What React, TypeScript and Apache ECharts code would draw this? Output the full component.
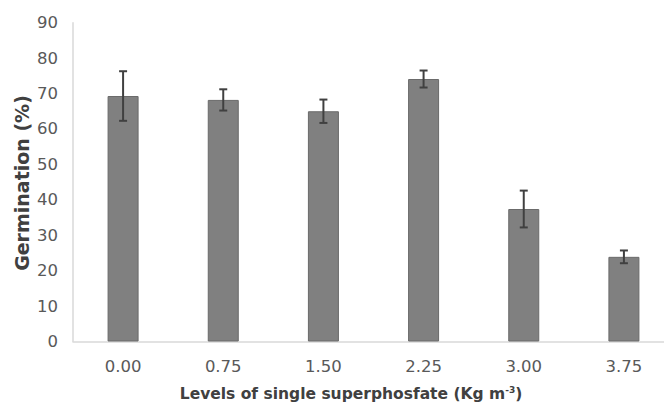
import React, { useEffect, useRef } from "react";
import * as echarts from "echarts";

const categories = ["0.00", "0.75", "1.50", "2.25", "3.00", "3.75"];
const germination = [69.3, 68.2, 65.0, 74.1, 37.4, 23.9];
const errors = [7.0, 3.0, 3.3, 2.4, 5.2, 1.8];
const yTicksMax = 90;
const yTickStep = 10;

const FONT = "'DejaVu Sans', sans-serif";

export default function App() {
  const ref = useRef<HTMLDivElement>(null);
  useEffect(() => {
    if (!ref.current) return;
    const chart = echarts.init(ref.current, null, { renderer: "svg" });
    const errData = categories.map((c, i) => [i, germination[i] - errors[i], germination[i] + errors[i]]);
    chart.setOption({
      animation: false,
      backgroundColor: "#ffffff",
      grid: { left: 73, top: 22.7, height: 318.8, width: 601, containLabel: false },
      xAxis: {
        type: "category",
        data: categories,
        axisLine: { show: true, lineStyle: { color: "#d9d9d9", width: 1.5 } },
        axisTick: { show: false },
        axisLabel: { color: "#595959", fontSize: 16.5, fontFamily: FONT, margin: 16 },
      },
      yAxis: {
        type: "value",
        min: 0,
        max: yTicksMax,
        interval: yTickStep,
        axisLine: { show: true, lineStyle: { color: "#d9d9d9", width: 1.5 } },
        axisTick: { show: false },
        splitLine: { show: false },
        axisLabel: { color: "#595959", fontSize: 16.5, fontFamily: FONT, margin: 15 },
      },
      series: [
        {
          type: "bar",
          data: germination,
          barWidth: 31,
          itemStyle: { color: "#808080", borderColor: "#6a6a6a", borderWidth: 1 },
        },
        {
          type: "custom",
          data: errData,
          z: 10,
          renderItem: (params: any, api: any) => {
            const x = api.value(0);
            const lo = api.coord([x, api.value(1)]);
            const hi = api.coord([x, api.value(2)]);
            const half = 4;
            const style = { stroke: "#404040", lineWidth: 2 };
            return {
              type: "group",
              children: [
                { type: "line", shape: { x1: lo[0], y1: lo[1], x2: hi[0], y2: hi[1] }, style },
                { type: "line", shape: { x1: hi[0] - half, y1: hi[1], x2: hi[0] + half, y2: hi[1] }, style },
                { type: "line", shape: { x1: lo[0] - half, y1: lo[1], x2: lo[0] + half, y2: lo[1] }, style },
              ],
            };
          },
        },
      ],
      graphic: [
        {
          type: "text",
          x: 351,
          y: 394,
          style: {
            text: "Levels of single superphosfate (Kg m{sup|-3})",
            fontSize: 15.5,
            fontWeight: "bold",
            fontFamily: FONT,
            fill: "#404040",
            align: "center",
            verticalAlign: "middle",
            rich: {
              sup: { fontSize: 9, fontWeight: "bold", fontFamily: FONT, fill: "#404040", verticalAlign: "top", padding: [0, 0, 8, 0] },
            },
          },
        },
        {
          type: "text",
          x: 22,
          y: 183,
          rotation: Math.PI / 2,
          style: {
            text: "Germination (%)",
            fontSize: 19,
            fontWeight: "bold",
            fontFamily: FONT,
            fill: "#404040",
            align: "center",
            verticalAlign: "middle",
          },
        },
      ],
    });
    return () => chart.dispose();
  }, []);
  return (
    <div style={{ width: 664, height: 403, position: "absolute", left: 0, top: 0, overflow: "hidden", background: "#fff" }}>
      <div ref={ref} style={{ width: 690, height: 403 }} />
    </div>
  );
}
